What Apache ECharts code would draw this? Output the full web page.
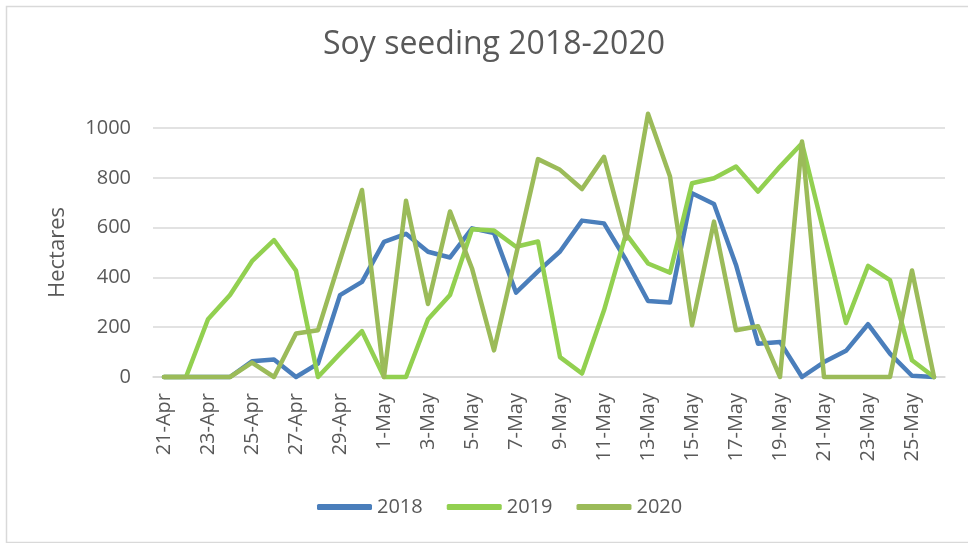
<!DOCTYPE html>
<html>
<head>
<meta charset="utf-8">
<script src="https://cdn.jsdelivr.net/npm/echarts@6/dist/echarts.min.js"></script>
<style>
html,body{margin:0;padding:0;background:#fff;}
#c{width:968px;height:543px;}
</style>
</head>
<body>
<div id="c"></div>
<script>
var categories = ["21-Apr","22-Apr","23-Apr","24-Apr","25-Apr","26-Apr","27-Apr","28-Apr","29-Apr","30-Apr",
  "1-May","2-May","3-May","4-May","5-May","6-May","7-May","8-May","9-May","10-May",
  "11-May","12-May","13-May","14-May","15-May","16-May","17-May","18-May","19-May","20-May",
  "21-May","22-May","23-May","24-May","25-May","26-May"];
var s2018 = [0,0,0,0,63,70,0,54,329,382,543,575,503,480,597,578,339,424,504,628,617,470,305,299,738,695,450,134,141,0,60,105,212,94,5,0];
var s2019 = [0,0,232,329,465,550,427,0,94,184,0,0,232,329,593,588,523,544,80,14,268,575,456,419,778,798,845,745,845,939,577,217,446,389,67,0];
var s2020 = [0,0,0,0,58,0,175,188,470,751,0,708,293,665,436,107,490,875,832,755,884,555,1057,805,208,624,188,204,0,946,0,0,0,0,428,0];
var yTicks = [0,200,400,600,800,1000];

var chart = echarts.init(document.getElementById('c'), null, {renderer:'canvas'});
var txt = '#595959';
var ff = 'Open Sans';
function mk(name, data, color){
  return {name:name, type:'line', data:data, symbol:'none', clip:false,
    lineStyle:{color:color, width:4.5, join:'round', cap:'round'}, itemStyle:{color:color}};
}
chart.setOption({
  animation:false,
  backgroundColor:'#fff',
  graphic:[{type:'rect', left:4, top:4, shape:{width:966, height:536}, style:{fill:'none', stroke:'#d9d9d9', lineWidth:1.5}, silent:true}],
  title:{text:'Soy seeding 2018-2020', left:318, top:24, textStyle:{color:txt, fontFamily:ff, fontWeight:'normal', fontSize:32}},
  grid:{left:153, right:23, top:128, bottom:166, containLabel:false},
  legend:{bottom:21, left:312, itemWidth:55, itemHeight:6, itemGap:24, icon:'roundRect',
    textStyle:{color:txt, fontFamily:ff, fontSize:20},
    data:['2018','2019','2020']},
  xAxis:{type:'category', data:categories, boundaryGap:true,
    axisLine:{lineStyle:{color:'#d9d9d9', width:1.5}}, axisTick:{show:false},
    axisLabel:{interval:1, rotate:90, color:txt, fontFamily:ff, fontSize:20, margin:16}},
  yAxis:{type:'value', min:yTicks[0], max:yTicks[yTicks.length-1], interval:200,
    name:'Hectares', nameLocation:'middle', nameGap:84, nameRotate:90,
    nameTextStyle:{color:txt, fontFamily:ff, fontSize:22},
    axisLine:{show:false}, axisTick:{show:false},
    axisLabel:{color:txt, fontFamily:ff, fontSize:20, margin:22, formatter:function(v){return String(v);}},
    splitLine:{lineStyle:{color:'#d9d9d9', width:1.5}}},
  series:[mk('2018', s2018, '#4a7ebb'), mk('2019', s2019, '#92d050'), mk('2020', s2020, '#9bbb59')]
});
</script>
</body>
</html>
